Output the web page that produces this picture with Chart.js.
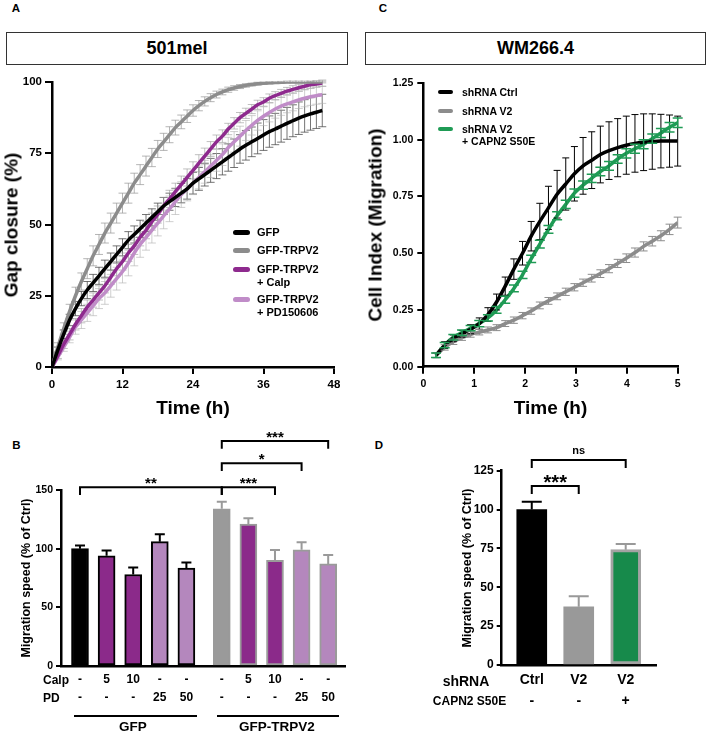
<!DOCTYPE html>
<html><head><meta charset="utf-8">
<script src="https://cdn.jsdelivr.net/npm/chart.js@4.4.0/dist/chart.umd.min.js"></script>
<style>
html,body{margin:0;padding:0;background:#fff;}
body{width:709px;height:735px;position:relative;overflow:hidden;font-family:'Liberation Sans',Arial,sans-serif;font-weight:bold;color:#000;}
canvas{position:absolute;}
.t{position:absolute;white-space:nowrap;line-height:1;transform:translate(-50%,-50%);}
.tl{position:absolute;white-space:nowrap;line-height:1;transform:translate(0,-50%);}
.r{position:absolute;white-space:nowrap;line-height:1;transform:translate(-50%,-50%) rotate(-90deg);}
.box{position:absolute;border:1px solid #333;display:flex;align-items:center;justify-content:center;font-size:18px;box-sizing:border-box;}
.sw{position:absolute;border-radius:3px;}
.hl{position:absolute;background:#000;height:2px;}
</style></head><body>

<div class="t" style="left:16px;top:9px;font-size:11.5px">A</div>
<div class="t" style="left:383px;top:9px;font-size:11.5px">C</div>
<div class="t" style="left:16.5px;top:446px;font-size:11.5px">B</div>
<div class="t" style="left:379px;top:446px;font-size:11.5px">D</div>

<div class="box" style="left:6px;top:32px;width:342px;height:33px">501mel</div>
<div class="box" style="left:365px;top:32px;width:341px;height:33px">WM266.4</div>

<canvas id="cA" width="355" height="350" style="left:0;top:70px"></canvas>
<canvas id="cC" width="354" height="350" style="left:355px;top:70px"></canvas>
<canvas id="cB" width="355" height="310" style="left:0;top:425px"></canvas>
<canvas id="cD" width="354" height="310" style="left:355px;top:425px"></canvas>

<div class="r" style="left:11px;top:224.5px;font-size:19px">Gap closure (%)</div>
<div class="t" style="left:193px;top:407px;font-size:19px">Time (h)</div>
<div class="r" style="left:375px;top:225px;font-size:19px">Cell Index (Migration)</div>
<div class="t" style="left:550.5px;top:407px;font-size:19px">Time (h)</div>
<div class="r" style="left:26px;top:578px;font-size:12.5px">Migration speed (% of Ctrl)</div>
<div class="r" style="left:467px;top:568px;font-size:12.5px">Migration speed (% of Ctrl)</div>

<!-- legend A -->
<div class="sw" style="left:233px;top:229.5px;width:17px;height:5px;background:#000"></div>
<div class="tl" style="left:257px;top:232px;font-size:11px">GFP</div>
<div class="sw" style="left:233px;top:247.5px;width:17px;height:5px;background:#8c8c8c"></div>
<div class="tl" style="left:257px;top:250px;font-size:11px">GFP-TRPV2</div>
<div class="sw" style="left:233px;top:266.5px;width:17px;height:5px;background:#8e2a8e"></div>
<div class="tl" style="left:257px;top:269px;font-size:11px">GFP-TRPV2</div>
<div class="tl" style="left:257px;top:282px;font-size:11px">+ Calp</div>
<div class="sw" style="left:233px;top:296.5px;width:17px;height:5px;background:#c08cc8"></div>
<div class="tl" style="left:257px;top:299px;font-size:11px">GFP-TRPV2</div>
<div class="tl" style="left:257px;top:312px;font-size:11px">+ PD150606</div>

<!-- legend C -->
<div class="sw" style="left:438px;top:89.7px;width:15px;height:4.6px;background:#000"></div>
<div class="tl" style="left:462px;top:92px;font-size:10.5px">shRNA Ctrl</div>
<div class="sw" style="left:438px;top:108.7px;width:15px;height:4.6px;background:#8c8c8c"></div>
<div class="tl" style="left:462px;top:111px;font-size:10.5px">shRNA V2</div>
<div class="sw" style="left:438px;top:126.7px;width:15px;height:4.6px;background:#1f9b55"></div>
<div class="tl" style="left:462px;top:129px;font-size:10.5px">shRNA V2</div>
<div class="tl" style="left:462px;top:141px;font-size:10.5px">+ CAPN2 S50E</div>

<!-- B row heads & groups -->
<div class="tl" style="left:43px;top:680px;font-size:12px">Calp</div>
<div class="tl" style="left:43px;top:698px;font-size:12px">PD</div>
<div class="hl" style="left:74px;top:715px;width:123px"></div>
<div class="hl" style="left:217px;top:715px;width:122px"></div>
<div class="t" style="left:133px;top:727px;font-size:13.5px">GFP</div>
<div class="t" style="left:277px;top:727px;font-size:13.5px">GFP-TRPV2</div>

<!-- D row heads -->
<div class="t" style="left:466px;top:680.5px;font-size:14px">shRNA</div>
<div class="t" style="left:469.5px;top:701px;font-size:12px">CAPN2 S50E</div>

<script>
// ---------- Panel A data (501mel gap closure, %) ----------
const timeA = [0,1,2,3,4,5,6,7,8,9,10,11,12,13,14,15,16,17,18,19,20,21,22,23,24,25,26,27,28,29,30,31,32,33,34,35,36,37,38,39,40,41,42,43,44,45,46];
const gfpA   = [0,6,11.5,16.5,20.5,24,27,29.5,32,34.5,37,39.5,42,44.5,46.5,48.5,50.5,52.5,54.5,56.5,58,59.5,61,62.5,64.5,66,67.5,69,70.5,72,73.5,75,76.5,77.8,79,80.2,81.4,82.6,83.5,84.5,85.5,86.4,87.3,88.1,88.8,89.4,90];
const trpv2A = [0,7,13.5,19.5,25,30,34.5,39,43,47,50.5,54,57.5,61,64.5,67.5,70.5,73.5,76.5,79,81.5,84,86,88,90,91.7,93.2,94.5,95.6,96.5,97.3,97.9,98.4,98.8,99.1,99.4,99.6,99.7,99.8,99.9,100,100,100,100,100,100,100];
const calpA  = [0,4,8,11.5,15,18,21,23.5,26,28.5,31.5,34.5,37,40,42.5,45.5,48,51,53.5,56.5,59,61.5,64,66.5,69,71.5,74,76.5,79,81,83.5,85.5,87.5,89,90.5,92,93,94.3,95.2,96,96.8,97.4,98,98.5,99,99.3,99.6];
const pdA    = [0,3.5,7,10.5,14,16.5,19,21.5,24,26,28.5,31,33.5,36.5,40,43,45.5,48,50.5,53,55.5,58,60.5,62.5,64.5,66.5,68.5,70.5,72.5,74.5,77,79,81,83,84.8,86.5,88,89.3,90.5,91.5,92.3,93,93.7,94.3,94.8,95.2,95.5];
const gfpErrA   = [0,1,1.5,2,2.5,2.5,3,3,3,3,3,3,3,3,3,3,3,3,3,3,3,3.2,3.4,3.6,3.8,4,4,4.2,4.4,4.6,4.8,5,5,5.2,5.2,5.4,5.4,5.5,5.5,5.6,5.6,5.6,5.7,5.7,5.7,5.7,5.7];
const trpv2ErrA = [0,1.5,2,2.5,3,3,3.5,3.5,3.5,3.5,3.5,3.5,3.5,3.5,3.5,3.5,3.5,3.2,3,3,2.8,2.6,2.4,2.2,2,1.8,1.6,1.4,1.2,1,0.9,0.8,0.7,0.6,0.5,0.5,0.4,0.4,0.3,0.3,0.3,0.3,0.3,0.3,0.3,0.3,0.3];
const calpErrA  = [0,1,1.5,2,2,2.5,2.5,2.5,2.5,2.5,2.5,2.5,3,3,3,3,3,3,3,3,3,3,3,3,3,3,2.8,2.6,2.4,2.2,2,2,1.8,1.8,1.6,1.6,1.5,1.5,1.4,1.4,1.3,1.3,1.2,1.2,1.2,1.1,1.1];
const pdErrA    = [0,1,1.5,2,2.5,3,3,3.5,3.5,4,4,4,4,4.5,4.5,4.5,4.5,4.5,4.5,4.5,4.5,4.5,4.5,4.2,4,4,4,4,3.8,3.8,3.6,3.6,3.5,3.5,3.4,3.4,3.3,3.3,3.2,3.2,3.1,3.1,3,3,3,3,3];
const xTicksA = [0,12,24,36,48];
const yTicksA = [0,25,50,75,100];

// ---------- Panel C data (WM266.4 cell index) ----------
const timeC  = [0.25,0.42,0.59,0.76,0.93,1.1,1.27,1.44,1.61,1.78,1.95,2.12,2.29,2.46,2.63,2.8,2.97,3.14,3.31,3.48,3.65,3.82,3.99,4.16,4.33,4.5,4.67,4.84,5.0];
const ctrlC  = [0.05,0.095,0.125,0.145,0.165,0.19,0.23,0.285,0.355,0.43,0.50,0.575,0.64,0.70,0.76,0.805,0.85,0.885,0.91,0.935,0.952,0.965,0.976,0.984,0.989,0.992,0.994,0.994,0.994];
const v2C    = [0.05,0.085,0.11,0.128,0.142,0.152,0.162,0.172,0.19,0.205,0.225,0.245,0.27,0.29,0.31,0.33,0.35,0.37,0.39,0.41,0.432,0.455,0.478,0.503,0.53,0.553,0.577,0.605,0.635];
const capnC  = [0.05,0.095,0.13,0.15,0.17,0.19,0.215,0.25,0.295,0.345,0.405,0.475,0.54,0.605,0.665,0.715,0.765,0.80,0.83,0.86,0.885,0.915,0.94,0.96,0.98,1.005,1.03,1.055,1.075];
const ctrlErrC = [0.01,0.015,0.015,0.015,0.02,0.025,0.03,0.035,0.04,0.045,0.052,0.065,0.08,0.095,0.105,0.115,0.12,0.125,0.125,0.125,0.127,0.128,0.128,0.127,0.125,0.122,0.118,0.115,0.11];
const v2ErrC   = [0.01,0.012,0.012,0.012,0.012,0.012,0.013,0.013,0.013,0.014,0.014,0.014,0.015,0.015,0.015,0.016,0.016,0.016,0.017,0.017,0.018,0.018,0.019,0.02,0.02,0.021,0.022,0.023,0.024];
const capnErrC = [0.01,0.012,0.012,0.012,0.012,0.014,0.014,0.015,0.015,0.015,0.016,0.016,0.017,0.017,0.018,0.018,0.018,0.018,0.018,0.019,0.019,0.019,0.02,0.02,0.02,0.02,0.02,0.021,0.021];

// ---------- Panel B data (501mel migration speed, % of Ctrl) ----------
const calpB   = ['-','5','10','-','-','-','5','10','-','-'];
const pdB     = ['-','-','-','25','50','-','-','-','25','50'];
const groupB  = ['GFP','GFP','GFP','GFP','GFP','GFP-TRPV2','GFP-TRPV2','GFP-TRPV2','GFP-TRPV2','GFP-TRPV2'];
const speedB  = [100,94,78,106,83.5,134,121,90,99,87];
const speedErrB = [2.8,4.5,6,6.3,4.8,6,5,8.8,6.5,7.7];
const sigB = [
  {a:0,b:5,y:152.3,text:'**'},
  {a:5,b:7,y:152.3,text:'***'},
  {a:5,b:8,y:172.8,text:'*'},
  {a:5,b:9,y:191.8,text:'***'}
];

// ---------- Panel D data (WM266.4 migration speed, % of Ctrl) ----------
const shrnaD  = ['Ctrl','V2','V2'];
const capn2D  = ['-','-','+'];
const speedD  = [100,37.5,74.2];
const speedErrD = [5,6.7,3.7];
const sigD = [
  {a:0,b:1,y:115.2,text:'***'},
  {a:0,b:2,y:131.9,text:'ns'}
];

// ---------- styling ----------
const FONT = "'Liberation Sans', Arial, sans-serif";
Chart.defaults.font.family = FONT;
Chart.defaults.font.weight = 'bold';
Chart.defaults.color = '#000';
Chart.defaults.animation = false;

const BLACK = '#000000', GRAY = '#8c8c8c', PURPLE = '#8e2a8e', LPURPLE = '#c08cc8', GREEN = '#1f9b55';

function drawErrors(chart) {
  const ctx = chart.ctx, ys = chart.scales.y;
  chart.data.datasets.forEach((ds, i) => {
    if (!ds.errors) return;
    const meta = chart.getDatasetMeta(i);
    ctx.save();
    ctx.lineWidth = ds.errWidth || 1;
    ds.data.forEach((d, j) => {
      const el = meta.data[j];
      const e = ds.errors[j];
      if (!el || !e) return;
      ctx.strokeStyle = Array.isArray(ds.errColor) ? ds.errColor[j] : ds.errColor;
      const cx = el.x;
      const yt = ys.getPixelForValue(d.y + e);
      const yb = ds.errUpOnly ? el.y : ys.getPixelForValue(d.y - e);
      const c = ds.capHalf;
      ctx.beginPath();
      ctx.moveTo(cx, yb); ctx.lineTo(cx, yt);
      ctx.moveTo(cx - c, yt); ctx.lineTo(cx + c, yt);
      if (!ds.errUpOnly) { ctx.moveTo(cx - c, yb); ctx.lineTo(cx + c, yb); }
      ctx.stroke();
    });
    ctx.restore();
  });
}
const errPlugin = {
  id: 'errbars',
  beforeDatasetsDraw(chart, args, o) { if (o && o.phase === 'before') drawErrors(chart); },
  afterDatasetsDraw(chart, args, o) { if (!o || o.phase !== 'before') drawErrors(chart); }
};
const bracketPlugin = {
  id: 'brackets',
  afterDraw(chart, args, o) {
    if (!o || !o.items) return;
    const ctx = chart.ctx, xs = chart.scales.x, ys = chart.scales.y;
    o.items.forEach(b => {
      const x1 = xs.getPixelForValue(o.pos[b.a]) + (b.dx1 || 0);
      const x2 = xs.getPixelForValue(o.pos[b.b]) + (b.dx2 || 0);
      const yy = ys.getPixelForValue(b.y);
      ctx.save();
      ctx.strokeStyle = '#000'; ctx.lineWidth = 2;
      ctx.beginPath();
      ctx.moveTo(x1, yy + o.leg); ctx.lineTo(x1, yy); ctx.lineTo(x2, yy); ctx.lineTo(x2, yy + o.leg);
      ctx.stroke();
      const isStar = b.text.indexOf('*') >= 0;
      const size = isStar ? o.starSize : o.textSize;
      ctx.font = 'bold ' + size + 'px ' + FONT;
      ctx.fillStyle = '#000'; ctx.textAlign = 'center'; ctx.textBaseline = 'alphabetic';
      ctx.fillText(b.text, (x1 + x2) / 2, yy + (isStar ? o.starDy : o.textDy));
      ctx.restore();
    });
  }
};

function tickGrid(len) { return {display:true, drawOnChartArea:false, drawTicks:true, tickLength:len, color:'#000', lineWidth:2}; }
const AXIS = {display:true, color:'#000', width:2.5};

function pts(xs, ys) { return xs.map((x, i) => ({x: x, y: ys[i]})); }
function lineDs(xs, ys, errs, color, errColor, cap, extra) {
  return Object.assign({data: pts(xs, ys), borderColor: color, borderWidth: 3.5, pointRadius: 0,
    cubicInterpolationMode: 'monotone', fill: false, errors: errs, errColor: errColor, capHalf: cap, errWidth: 1}, extra || {});
}

// ---------- Panel A ----------
new Chart(document.getElementById('cA'), {
  type: 'line',
  data: {datasets: [
    lineDs(timeA, gfpA, gfpErrA, BLACK, 'rgba(70,70,70,0.75)', 4),
    lineDs(timeA, trpv2A, trpv2ErrA, GRAY, 'rgba(150,150,150,0.7)', 4),
    lineDs(timeA, calpA, calpErrA, PURPLE, 'rgba(150,150,150,0.6)', 4),
    lineDs(timeA, pdA, pdErrA, LPURPLE, 'rgba(175,175,175,0.6)', 4)
  ]},
  options: {
    responsive: false, devicePixelRatio: 1,
    layout: {padding: {left: 12, top: 12, right: 21, bottom: 28}},
    plugins: {legend: {display: false}, tooltip: {enabled: false}, errbars: {phase: 'before'}},
    scales: {
      x: {type: 'linear', min: 0, max: 48,
        afterBuildTicks: s => { s.ticks = xTicksA.map(v => ({value: v})); },
        ticks: {font: {size: 11.5, weight: 'bold'}, padding: 4, maxRotation: 0, autoSkip: false},
        grid: tickGrid(7), border: AXIS, afterFit: s => { s.height = 25; }},
      y: {type: 'linear', min: 0, max: 100,
        afterBuildTicks: s => { s.ticks = yTicksA.map(v => ({value: v})); },
        ticks: {font: {size: 11.5, weight: 'bold'}, padding: 3},
        grid: tickGrid(7), border: AXIS, afterFit: s => { s.width = 40; }}
    }
  },
  plugins: [errPlugin]
});

// ---------- Panel C ----------
new Chart(document.getElementById('cC'), {
  type: 'line',
  data: {datasets: [
    lineDs(timeC, ctrlC, ctrlErrC, BLACK, '#000', 3.5, {tension: 0.4}),
    lineDs(timeC, v2C, v2ErrC, GRAY, GRAY, 4),
    lineDs(timeC, capnC, capnErrC, GREEN, GREEN, 5, {errWidth: 1.5})
  ]},
  options: {
    responsive: false, devicePixelRatio: 1,
    layout: {padding: {left: 23.3, top: 13, right: 31.3, bottom: 28.3}},
    plugins: {legend: {display: false}, tooltip: {enabled: false}, errbars: {phase: 'after'}},
    scales: {
      x: {type: 'linear', min: 0, max: 5,
        ticks: {stepSize: 1, font: {size: 10.5, weight: 'bold'}, padding: 4, maxRotation: 0},
        grid: tickGrid(7), border: AXIS, afterFit: s => { s.height = 25; }},
      y: {type: 'linear', min: 0, max: 1.25,
        ticks: {stepSize: 0.25, font: {size: 10.5, weight: 'bold'}, padding: 4, callback: v => v.toFixed(2)},
        grid: tickGrid(6), border: AXIS, afterFit: s => { s.width = 45; }}
    }
  },
  plugins: [errPlugin]
});

// ---------- Panel B ----------
const posB = speedB.map((v, i) => i < 5 ? i : i + 0.33);   // second group shifted by a small gap
const fillB = [BLACK, '#8b2a8a', '#8b2a8a', '#b487bd', '#b487bd', '#9a9a9a', '#8b2a8a', '#8b2a8a', '#b487bd', '#b487bd'];
const edgeB = groupB.map(g => g === 'GFP' ? '#000' : '#9a9a9a');
new Chart(document.getElementById('cB'), {
  type: 'bar',
  data: {datasets: [{
    data: pts(posB, speedB), backgroundColor: fillB, borderColor: edgeB, borderWidth: 2,
    borderSkipped: false, barThickness: 17,
    errors: speedErrB, errColor: edgeB, errUpOnly: true, capHalf: 5, errWidth: 2
  }]},
  options: {
    responsive: false, devicePixelRatio: 1,
    layout: {padding: {left: 21, top: 65, right: 10, bottom: 24}},
    plugins: {legend: {display: false}, tooltip: {enabled: false}, errbars: {phase: 'after'},
      brackets: {items: sigB, pos: posB, leg: 7.7, starSize: 15, starDy: 1, textSize: 11, textDy: -7}},
    scales: {
      x: {type: 'linear', min: -0.714, max: 9.962, offset: false,
        afterBuildTicks: s => { s.ticks = posB.map(v => ({value: v})); },
        ticks: {autoSkip: false, maxRotation: 0, padding: 5, font: {size: 12, weight: 'bold', lineHeight: 1.5},
          callback: (v, i) => [calpB[i], pdB[i]]},
        grid: {display: false, drawTicks: false, offset: false}, border: AXIS, afterFit: s => { s.height = 45; }},
      y: {type: 'linear', min: 0, max: 150,
        ticks: {stepSize: 50, font: {size: 10.5, weight: 'bold'}, padding: 3},
        grid: tickGrid(5), border: AXIS, afterFit: s => { s.width = 40; }}
    }
  },
  plugins: [errPlugin, bracketPlugin]
});

// ---------- Panel D ----------
const posD = speedD.map((v, i) => i);
new Chart(document.getElementById('cD'), {
  type: 'bar',
  data: {datasets: [{
    data: pts(posD, speedD), backgroundColor: [BLACK, '#999999', '#178a4b'],
    borderColor: [BLACK, '#999999', '#a3a3a3'], borderWidth: [0, 0, 3],
    borderSkipped: false, barThickness: 30,
    errors: speedErrD, errColor: [BLACK, '#999999', '#999999'], errUpOnly: true, capHalf: 10, errWidth: 2
  }]},
  options: {
    responsive: false, devicePixelRatio: 1,
    layout: {padding: {left: 106.7, top: 45.7, right: 53, bottom: 25}},
    plugins: {legend: {display: false}, tooltip: {enabled: false}, errbars: {phase: 'after'},
      brackets: {items: sigD, pos: posD, leg: 8, starSize: 20, starDy: 3, textSize: 11, textDy: -6}},
    scales: {
      x: {type: 'linear', min: -0.64, max: 2.645, offset: false,
        afterBuildTicks: s => { s.ticks = posD.map(v => ({value: v})); },
        ticks: {autoSkip: false, maxRotation: 0, padding: 4.5, font: {size: 14, weight: 'bold', lineHeight: 1.5},
          callback: (v, i) => [shrnaD[i], capn2D[i]]},
        grid: {display: false, drawTicks: false, offset: false}, border: AXIS, afterFit: s => { s.height = 45; }},
      y: {type: 'linear', min: 0, max: 125,
        ticks: {stepSize: 25, font: {size: 12, weight: 'bold'}, padding: 3},
        grid: tickGrid(5), border: AXIS, afterFit: s => { s.width = 40; }}
    }
  },
  plugins: [errPlugin, bracketPlugin]
});
</script>
</body></html>
